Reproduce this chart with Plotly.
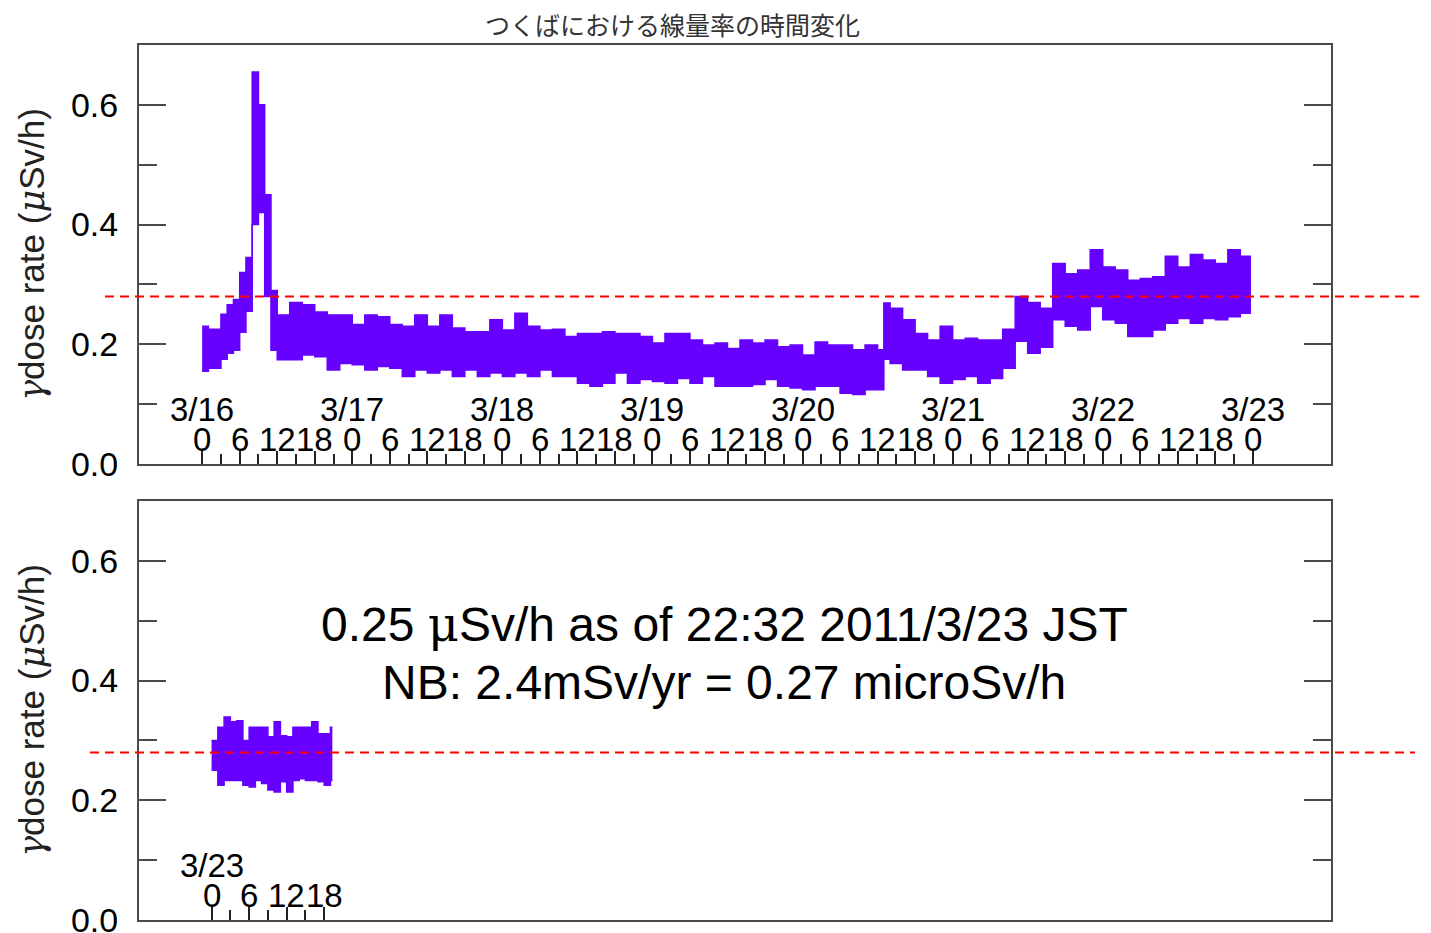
import plotly.graph_objects as go

# ---------------- data ----------------
chart_title = "つくばにおける線量率の時間変化"
serif = "font-family:DejaVu Serif"
y_title = (f"<span style='{serif}'><i>γ</i></span>dose rate "
           f"(<span style='{serif}'><i>μ</i></span>Sv/h)")
note_line1 = f"0.25 <span style='{serif}'>μ</span>Sv/h as of 22:32 2011/3/23 JST"
note_line2 = "NB: 2.4mSv/yr = 0.27 microSv/h"
nb_level = 0.28  # level of the red dashed reference line as drawn

# Top panel: hours since 2011-03-16 00:00 JST (start of each step)
top_hours = [0, 1, 2, 3, 4, 5, 6, 7, 8, 9, 10, 11, 12,
             14, 16, 18, 20, 22, 24, 26, 28, 30, 32, 34, 36, 38, 40, 42, 44,
             46, 48, 50, 52, 54, 56, 58, 60, 62, 64, 66, 68, 70, 72, 74, 76,
             78, 80, 82, 84, 86, 88, 90, 92, 94, 96, 98, 100, 102, 104, 106,
             108, 109, 110, 112, 114, 116, 118, 120, 122, 124, 126, 128, 130,
             132, 134, 136, 138, 140, 142, 144, 146, 148, 150, 152, 154, 156,
             158, 160, 162, 164, 166]
top_end_hour = 167.7
top_upper = [0.230, 0.225, 0.225, 0.250, 0.266, 0.275, 0.320, 0.345, 0.655, 0.600, 0.450, 0.290, 0.249,
             0.270, 0.266, 0.254, 0.249, 0.249, 0.233, 0.249, 0.246, 0.233, 0.230, 0.249, 0.230, 0.249, 0.227, 0.221, 0.221,
             0.241, 0.224, 0.252, 0.230, 0.224, 0.225, 0.213, 0.218, 0.218, 0.221, 0.218, 0.218, 0.213, 0.202, 0.218, 0.218,
             0.207, 0.199, 0.202, 0.193, 0.207, 0.202, 0.207, 0.196, 0.199, 0.182, 0.204, 0.199, 0.199, 0.191, 0.199,
             0.191, 0.269, 0.260, 0.241, 0.218, 0.207, 0.230, 0.207, 0.210, 0.207, 0.207, 0.225, 0.280,
             0.270, 0.260, 0.335, 0.318, 0.324, 0.358, 0.329, 0.324, 0.307, 0.310, 0.313, 0.347, 0.329,
             0.350, 0.341, 0.335, 0.358, 0.347]
top_lower = [0.155, 0.160, 0.160, 0.175, 0.185, 0.190, 0.220, 0.255, 0.400, 0.420, 0.280, 0.190, 0.174,
             0.174, 0.182, 0.179, 0.157, 0.168, 0.166, 0.157, 0.163, 0.160, 0.146, 0.157, 0.152, 0.157, 0.146, 0.157, 0.146,
             0.152, 0.146, 0.152, 0.146, 0.157, 0.146, 0.146, 0.135, 0.130, 0.135, 0.152, 0.135, 0.141, 0.138, 0.135, 0.143,
             0.135, 0.146, 0.130, 0.130, 0.130, 0.133, 0.141, 0.130, 0.127, 0.124, 0.130, 0.130, 0.118, 0.116, 0.124,
             0.124, 0.175, 0.168, 0.157, 0.157, 0.146, 0.135, 0.141, 0.146, 0.135, 0.143, 0.160, 0.205,
             0.185, 0.195, 0.241, 0.230, 0.224, 0.263, 0.241, 0.235, 0.213, 0.213, 0.224, 0.235, 0.243,
             0.235, 0.243, 0.241, 0.246, 0.252]

# Bottom panel: hours since 2011-03-23 00:00 JST
bot_hours = list(range(20))
bot_end_hour = 19.3
bot_upper = [0.300, 0.322, 0.339, 0.331, 0.333, 0.300, 0.322, 0.322, 0.322, 0.306,
             0.331, 0.308, 0.306, 0.322, 0.322, 0.322, 0.331, 0.311, 0.311, 0.322]
bot_lower = [0.250, 0.225, 0.233, 0.233, 0.233, 0.225, 0.222, 0.233, 0.228, 0.217,
             0.214, 0.231, 0.214, 0.233, 0.236, 0.233, 0.233, 0.231, 0.225, 0.233]

# Axis ticks
top_days = ["3/16", "3/17", "3/18", "3/19", "3/20", "3/21", "3/22", "3/23"]
bot_days = ["3/23"]
hour_labels = ["0", "6", "12", "18"]
top_x_range = [-10.1, 180.5]
bot_x_range = [-11.6, 178.9]
y_range = [0, 0.70]
y_major = [0.0, 0.2, 0.4, 0.6]
y_minor = [0.1, 0.3, 0.5]

# ---------------- styling ----------------
purple = "#6600ff"
axis_c = "#4a4a4a"
font_fam = "Liberation Sans, Arial, sans-serif"

top_ticks = list(range(0, 24 * (len(top_days) - 1) + 1, 6))
top_tick_text = [hour_labels[(h // 6) % 4] for h in top_ticks]
top_minor = list(range(3, 24 * (len(top_days) - 1), 6))
bot_ticks = [0, 6, 12, 18]
bot_tick_text = hour_labels
bot_minor = [3, 9, 15]

fig = go.Figure()


def add_band(hours, end_h, lower, upper, xa, ya):
    xs = list(hours) + [end_h]
    lo = list(lower) + [lower[-1]]
    hi = list(upper) + [upper[-1]]
    fig.add_trace(go.Scatter(x=xs, y=lo, mode="lines", xaxis=xa, yaxis=ya,
                             line=dict(color=purple, width=1.5, shape="hv"),
                             showlegend=False, hoverinfo="skip"))
    fig.add_trace(go.Scatter(x=xs, y=hi, mode="lines", xaxis=xa, yaxis=ya,
                             line=dict(color=purple, width=1.5, shape="hv"),
                             fill="tonexty", fillcolor=purple,
                             showlegend=False, hoverinfo="skip"))


add_band(top_hours, top_end_hour, top_lower, top_upper, "x", "y")
add_band(bot_hours, bot_end_hour, bot_lower, bot_upper, "x2", "y2")


def xcfg(rng, ticks, minor, anchor):
    return dict(range=rng, domain=[0, 1], anchor=anchor, automargin=False,
                showline=True, mirror=True, linecolor=axis_c, linewidth=2,
                ticks="inside", tickmode="array", tickvals=ticks, showticklabels=False,
                ticklen=13, tickwidth=2, tickcolor="#222",
                minor=dict(tickmode="array", tickvals=minor, ticks="inside", ticklen=10,
                           tickwidth=2, tickcolor="#222"),
                showgrid=False, zeroline=False, fixedrange=True)


def ycfg(domain, anchor):
    return dict(range=y_range, domain=domain, anchor=anchor, automargin=False,
                showline=True, mirror="ticks", linecolor=axis_c, linewidth=2,
                ticks="inside", tickmode="array", tickvals=y_major, tickformat=".1f",
                ticklen=27, tickwidth=2, tickcolor=axis_c, ticklabelstandoff=12,
                ticklabeloverflow="allow",
                minor=dict(tickmode="array", tickvals=y_minor, ticks="inside", ticklen=18,
                           tickwidth=2, tickcolor=axis_c),
                tickfont=dict(size=34, color="black", family=font_fam),
                title=dict(text=y_title, font=dict(size=35, color="#222", family=font_fam), standoff=16),
                showgrid=False, zeroline=False, fixedrange=True)


# page body adds an 8px offset, so the figure is drawn 8px smaller
W, H = 1423, 925
ml, mr, mt, mb = 131, 100, 37, 13
pw = W - ml - mr          # 1192
ph = H - mt - mb          # 875


# reference-pixel helpers (reference plot area: x 139..1331, y 45..920)
def px(X):
    return (X - 139) / pw


def py(Y):
    return (920 - Y) / ph


top_dom = [py(464), 1.0]
bot_dom = [0.0, py(501)]

fig.update_layout(
    width=W, height=H,
    margin=dict(l=ml, r=mr, t=mt, b=mb, autoexpand=False),
    paper_bgcolor="white", plot_bgcolor="white",
    xaxis=xcfg(top_x_range, top_ticks, top_minor, "y"),
    yaxis=ycfg(top_dom, "x"),
    xaxis2=xcfg(bot_x_range, bot_ticks, bot_minor, "y2"),
    yaxis2=ycfg(bot_dom, "x2"),
    showlegend=False,
)

tick_font = dict(size=33, color="black", family=font_fam)
ann = []
for xr, yr, days, ticks, texts in (("x", "y", top_days, top_ticks, top_tick_text),
                                   ("x2", "y2", bot_days, bot_ticks, bot_tick_text)):
    for i, d in enumerate(days):
        ann.append(dict(x=24 * i, y=0, xref=xr, yref=yr, text=d, showarrow=False,
                        yanchor="middle", yshift=55, font=tick_font))
    for t, s in zip(ticks, texts):
        ann.append(dict(x=t, y=0, xref=xr, yref=yr, text=s, showarrow=False,
                        yanchor="middle", yshift=25, font=tick_font))
ann.append(dict(x=px(672), y=py(24), xref="paper", yref="paper",
                text=chart_title, showarrow=False, xanchor="center", yanchor="middle",
                font=dict(size=25, color="#333", family="Noto Sans CJK JP")))
ann.append(dict(x=px(724), y=py(624), xref="paper", yref="paper",
                text=note_line1, showarrow=False, xanchor="center", yanchor="middle",
                font=dict(size=48, color="black", family=font_fam)))
ann.append(dict(x=px(724), y=py(682), xref="paper", yref="paper",
                text=note_line2, showarrow=False, xanchor="center", yanchor="middle",
                font=dict(size=48, color="black", family=font_fam)))
fig.update_layout(annotations=ann)

fig.add_shape(type="line", xref="paper", yref="y", x0=px(105), x1=px(1431),
              y0=nb_level, y1=nb_level, line=dict(color="red", width=2, dash="9px,6px"))
fig.add_shape(type="line", xref="paper", yref="y2", x0=px(90), x1=px(1415),
              y0=nb_level, y1=nb_level, line=dict(color="red", width=2, dash="9px,6px"))

fig.write_html("out.html")
